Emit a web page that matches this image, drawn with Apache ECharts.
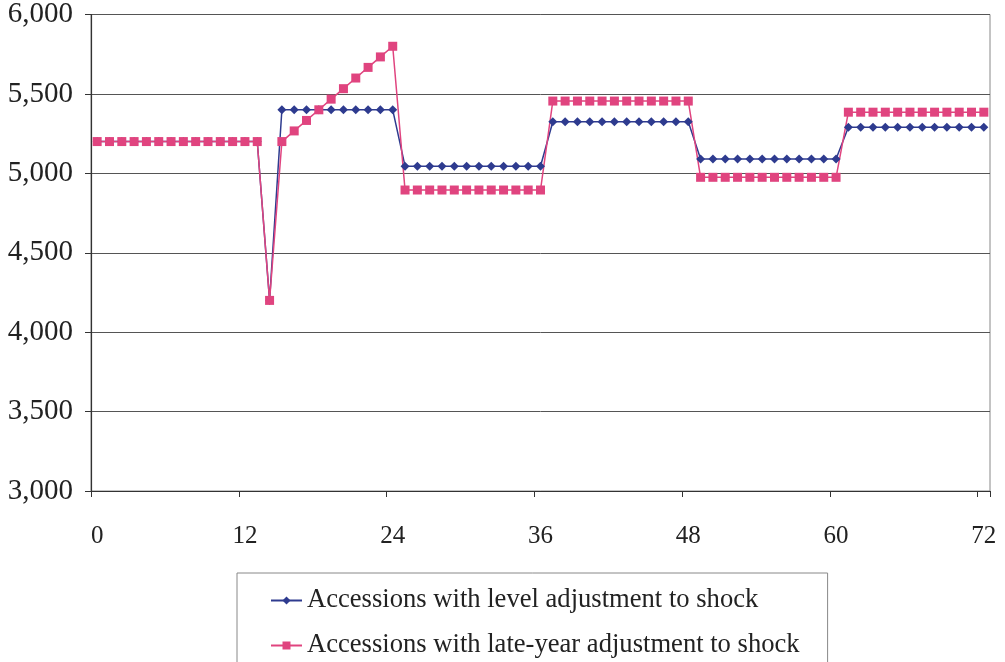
<!DOCTYPE html>
<html>
<head>
<meta charset="utf-8">
<script src="https://cdn.jsdelivr.net/npm/echarts@6/dist/echarts.min.js"></script>
<style>
html,body{margin:0;padding:0;background:#fff;}
#chart{width:1005px;height:662px;}
</style>
</head>
<body>
<div id="chart"></div>
<script>
// Months 0..72
var categories = [];
for (var i = 0; i <= 72; i++) categories.push(String(i));

var seriesNames = [
  'Accessions with level adjustment to shock',
  'Accessions with late-year adjustment to shock'
];

var levelAdjustment = [
  5200,5200,5200,5200,5200,5200,5200,5200,5200,5200,5200,5200,5200,5200,
  4200,
  5400,5400,5400,5400,5400,5400,5400,5400,5400,5400,
  5045,5045,5045,5045,5045,5045,5045,5045,5045,5045,5045,5045,
  5325,5325,5325,5325,5325,5325,5325,5325,5325,5325,5325,5325,
  5090,5090,5090,5090,5090,5090,5090,5090,5090,5090,5090,5090,
  5290,5290,5290,5290,5290,5290,5290,5290,5290,5290,5290,5290
];

var lateYearAdjustment = [
  5200,5200,5200,5200,5200,5200,5200,5200,5200,5200,5200,5200,5200,5200,
  4200,
  5200,5267,5333,5400,5467,5533,5600,5667,5733,5800,
  4895,4895,4895,4895,4895,4895,4895,4895,4895,4895,4895,4895,
  5455,5455,5455,5455,5455,5455,5455,5455,5455,5455,5455,5455,
  4975,4975,4975,4975,4975,4975,4975,4975,4975,4975,4975,4975,
  5385,5385,5385,5385,5385,5385,5385,5385,5385,5385,5385,5385
];

var FONT = 'Liberation Serif';
var chart = echarts.init(document.getElementById('chart'));
chart.setOption({
  backgroundColor: '#fff',
  animation: false,
  grid: {
    left: 91, right: 15, top: 14, bottom: 171,
    show: true, borderColor: '#888', borderWidth: 1, backgroundColor: 'transparent'
  },
  xAxis: {
    type: 'category',
    data: categories,
    boundaryGap: true,
    axisLine: { lineStyle: { color: '#333', width: 1.2 } },
    axisTick: { show: true, interval: 11, length: 6, lineStyle: { color: '#333' } },
    axisLabel: {
      interval: 11, margin: 33,
      fontFamily: FONT, fontSize: 25, color: '#222'
    },
    splitLine: { show: false }
  },
  yAxis: {
    type: 'value',
    min: 3000, max: 6000, interval: 500,
    axisLine: { show: true, lineStyle: { color: '#333', width: 1.2 } },
    axisTick: { show: true, length: 6, lineStyle: { color: '#333' } },
    axisLabel: {
      margin: 18, fontFamily: FONT, fontSize: 29, color: '#222',
      formatter: function (v) { return v.toLocaleString('en-US'); }
    },
    splitLine: { show: true, lineStyle: { color: '#555', width: 1 } }
  },
  legend: {
    orient: 'vertical',
    left: 237, top: 573,
    width: 650, height: 200,
    padding: [14, 28, 14, 33],
    itemGap: 18,
    itemWidth: 31, itemHeight: 10,
    borderColor: '#888', borderWidth: 1,
    textStyle: { fontFamily: FONT, fontSize: 26.6, color: '#222', lineHeight: 27 },
    data: seriesNames
  },
  series: [
    {
      name: seriesNames[0],
      type: 'line',
      data: levelAdjustment,
      showAllSymbol: true,
      symbol: 'diamond', symbolSize: 9,
      itemStyle: { color: '#2e3b8f' },
      lineStyle: { color: '#2e3b8f', width: 1.5 }
    },
    {
      name: seriesNames[1],
      type: 'line',
      data: lateYearAdjustment,
      showAllSymbol: true,
      symbol: 'rect', symbolSize: 9,
      itemStyle: { color: '#e0447f' },
      lineStyle: { color: '#e0447f', width: 1.5 }
    }
  ]
});
</script>
</body>
</html>
